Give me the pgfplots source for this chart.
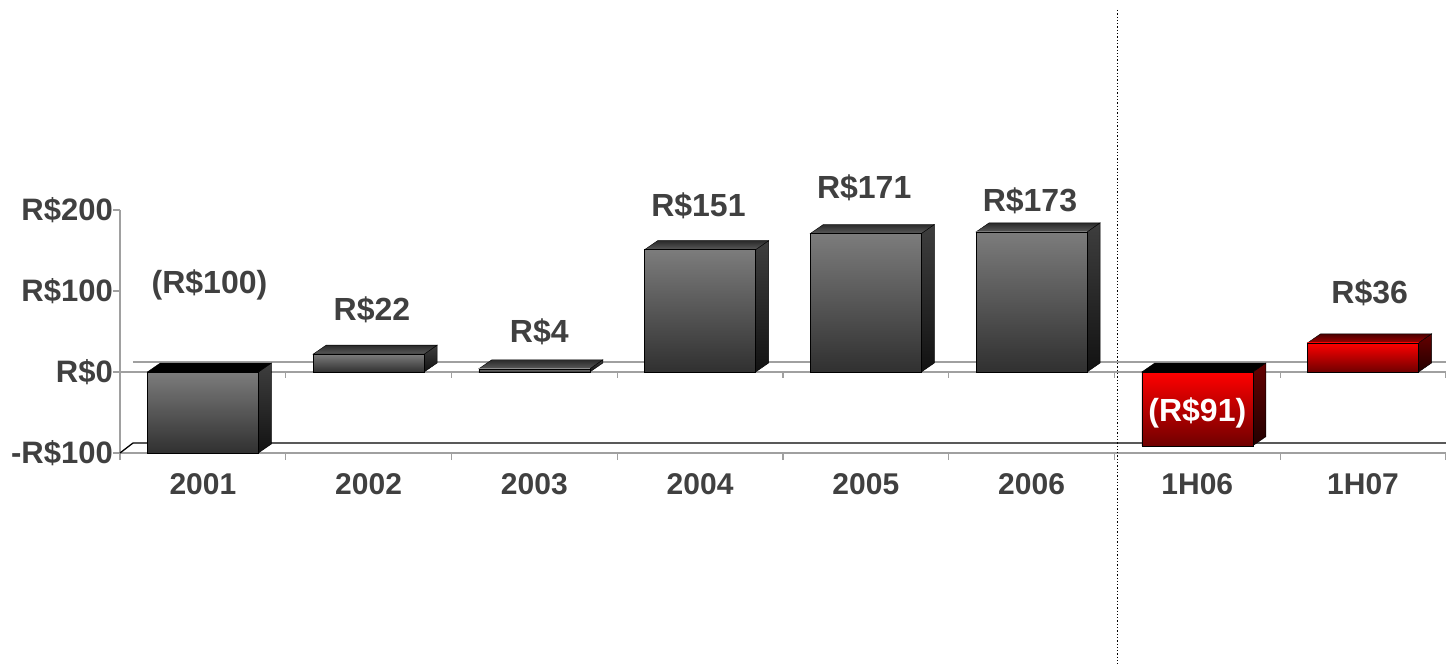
\documentclass[border=0pt]{standalone}
\usepackage{pgfplots}
\pgfplotsset{compat=1.18}
\usepackage{fontspec}
\setmainfont{Liberation Sans}
\definecolor{txt}{HTML}{404040}
\definecolor{axgray}{HTML}{A0A0A0}
\definecolor{gfT}{HTML}{7C7C7C}
\definecolor{gfB}{HTML}{303030}
\definecolor{gsT}{HTML}{3E3E3E}
\definecolor{gsB}{HTML}{121212}
\definecolor{gtT}{HTML}{2A2A2A}
\definecolor{gtB}{HTML}{5A5A5A}
\definecolor{rfT}{HTML}{FF0000}
\definecolor{rfB}{HTML}{700000}
\definecolor{rsT}{HTML}{650000}
\definecolor{rsB}{HTML}{220000}
\definecolor{rtT}{HTML}{4A0000}
\definecolor{rtB}{HTML}{A00000}
\pgfdeclareplotmark{empty}{}
% #1,#2 side face; #3,#4 top face; #5,#6 front face
\newcommand\threedcode[6]{%
  \pgfmathsetmacro\h{-\v*0.81}%
  \pgfmathsetmacro\t{max(0,\h)}%
  \pgfmathsetmacro\b{min(0,\h)}%
  \path[top color=#1, bottom color=#2] (55.5pt,0pt) -- (55.5pt,\h pt) -- (68.5pt,\h pt+9pt) -- (68.5pt,9pt) -- cycle;%
  \ifdim\v pt<0pt
    \fill[black] (-55.5pt,\t pt) -- (55.5pt,\t pt) -- (68.5pt,\t pt+9pt) -- (-42.5pt,\t pt+9pt) -- cycle;%
  \else
    \path[top color=#3, bottom color=#4] (-55.5pt,\t pt) -- (55.5pt,\t pt) -- (68.5pt,\t pt+9pt) -- (-42.5pt,\t pt+9pt) -- cycle;%
  \fi
  \path[top color=#5, bottom color=#6] (-55.5pt,\b pt) rectangle (55.5pt,\t pt);%
}
\pgfplotstableread{
x y
0 -100
1 22
2 4
3 151
4 171
5 173
}\graydata
\pgfplotstableread{
x y
6 -91
7 36
}\reddata
\begin{document}
\begin{tikzpicture}
\path[use as bounding box] (-120pt,-211pt) rectangle (1326pt,453pt);
\begin{axis}[
  at={(0pt,0pt)}, anchor=south west,
  scale only axis, width=1326pt, height=243pt,
  xmin=-0.5, xmax=7.5, ymin=-100, ymax=200,
  clip=false,
  axis x line*=bottom, axis y line*=left,
  axis line style={-, axgray, line width=1.3pt},
  every tick/.style={axgray, line width=1.3pt},
  tick align=outside, major tick length=7pt,
  xtick={-0.5,0.5,...,7.5},
  xticklabels={2001,2002,2003,2004,2005,2006,1H06,1H07,{}},
  xticklabel style={font=\bfseries\fontsize{30}{34}\selectfont, text=txt, xshift=82.875pt, anchor=center, yshift=-24pt},
  ytick={-100,0,100,200},
  yticklabels={-R\$100,R\$0,R\$100,R\$200},
  yticklabel style={font=\bfseries\fontsize{31}{35}\selectfont, text=txt, inner sep=0pt, xshift=0pt},
]
% back wall / floor lines
\draw[axgray, line width=1.3pt] ([shift={(13pt,10pt)}]axis cs:-0.5,0) -- ([shift={(0pt,10pt)}]axis cs:7.5,0);
\draw[black, line width=1.3pt] (axis cs:-0.5,-100) -- ([shift={(13pt,10pt)}]axis cs:-0.5,-100) -- ([shift={(0pt,10pt)}]axis cs:7.5,-100);
% front zero line with ticks
\draw[axgray, line width=1.3pt] (axis cs:-0.5,0) -- (axis cs:7.5,0);
\pgfplotsinvokeforeach{-0.5,0.5,1.5,2.5,3.5,4.5,5.5,6.5,7.5}{
  \draw[axgray, line width=1.3pt] (axis cs:#1,0) -- ++(0pt,-6pt);
}
% 3D bars (front, side and top faces drawn at each data point)
\addplot[scatter, only marks, mark=empty,
  visualization depends on={rawy \as \v},
  scatter/@pre marker code/.code={\threedcode{gsT}{gsB}{gtT}{gtB}{gfT}{gfB}},
  scatter/@post marker code/.code={}] table[x=x, y=y] {\graydata};
\addplot[scatter, only marks, mark=empty,
  visualization depends on={rawy \as \v},
  scatter/@pre marker code/.code={\threedcode{rsT}{rsB}{rtT}{rtB}{rfT}{rfB}},
  scatter/@post marker code/.code={}] table[x=x, y=y] {\reddata};
% value labels
\addplot[only marks, mark=empty, nodes near coords, point meta=explicit symbolic,
  every node near coord/.append style={anchor=center, inner sep=0pt, font=\bfseries\fontsize{32}{38}\selectfont, text=txt}]
  coordinates {(0.04,107) [(R\$100)] (1.02,76.5) [R\$22] (2.03,49.4) [R\$4] (2.99,205) [R\$151] (3.99,228) [R\$171] (4.99,211) [R\$173] (7.04,97.5) [R\$36]};
\addplot[only marks, mark=empty, nodes near coords, point meta=explicit symbolic,
  every node near coord/.append style={anchor=center, inner sep=0pt, font=\bfseries\fontsize{32}{38}\selectfont, text=white}]
  coordinates {(6.0,-50.6) [(R\$91)]};
% separator
\draw[black, line width=1.3pt, dash pattern=on 1.3pt off 2pt] (axis cs:5.52,447) -- (axis cs:5.52,-362);
\end{axis}
\end{tikzpicture}
\end{document}
